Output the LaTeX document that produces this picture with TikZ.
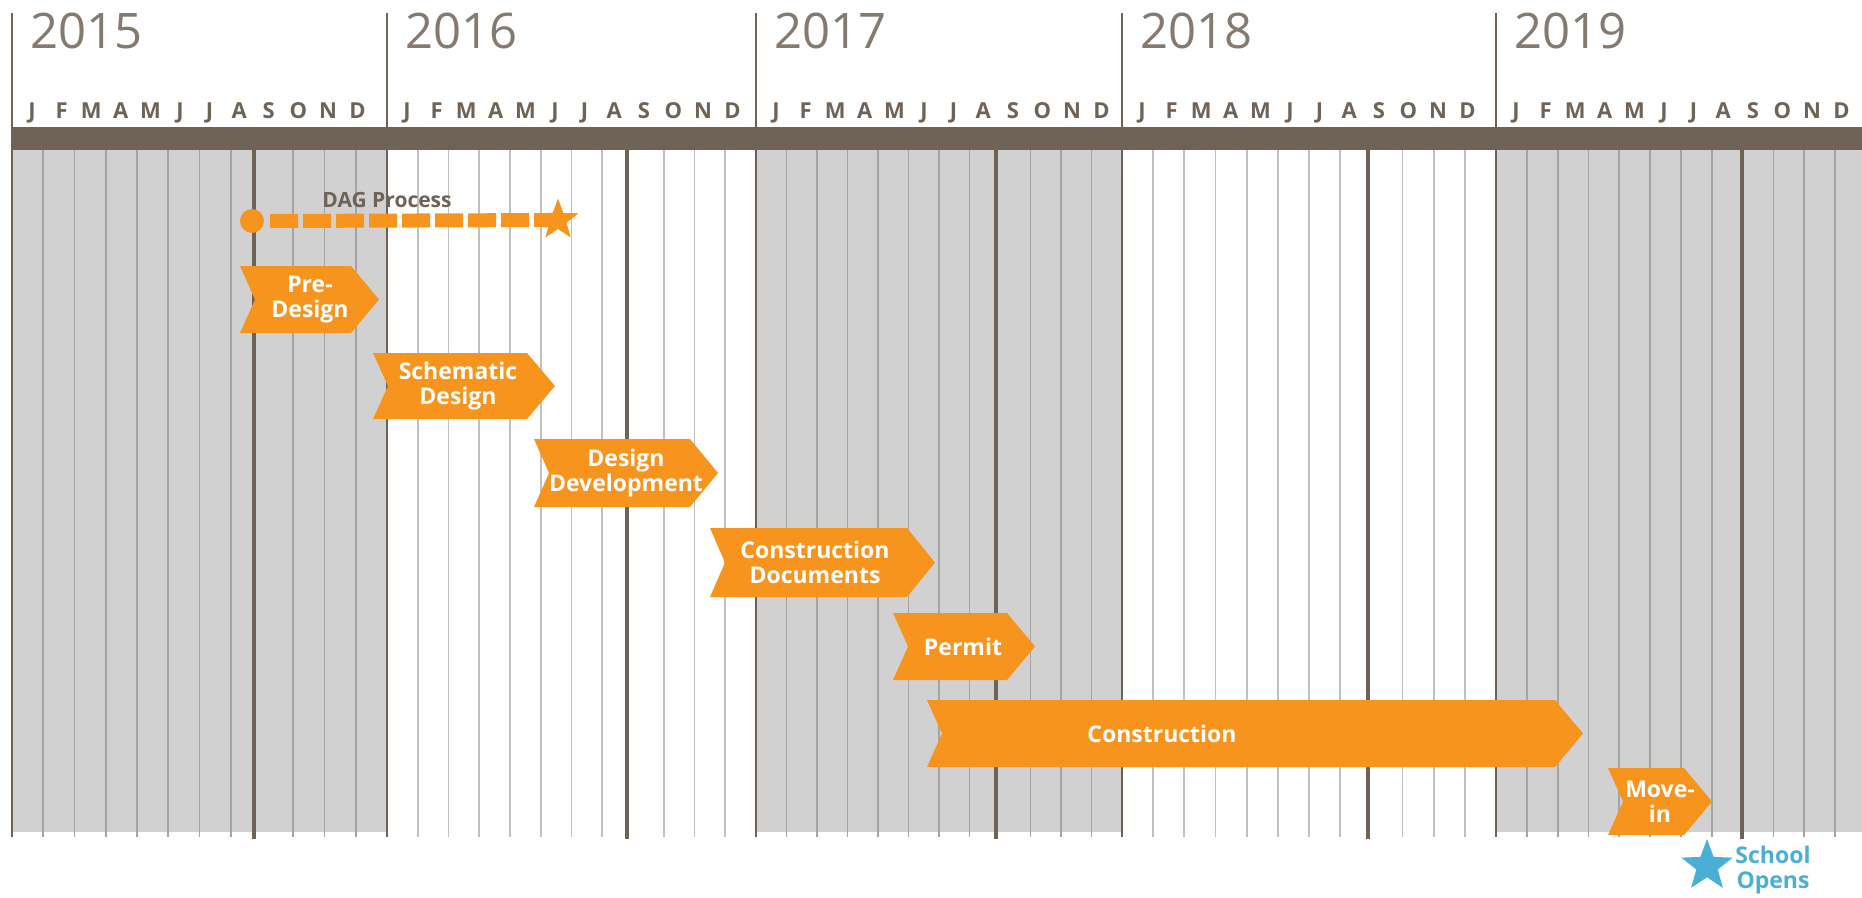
\documentclass[tikz,border=0pt]{standalone}
\usepackage{fontspec}
\setmainfont{Open Sans}
\usetikzlibrary{shapes.geometric}
\definecolor{brn}{HTML}{6F6357}
\definecolor{org}{HTML}{F7941D}
\definecolor{blu}{HTML}{4AAFD6}
\definecolor{gfill}{HTML}{D1D1D1}
\definecolor{gline}{HTML}{A6A4A2}
\definecolor{wline}{HTML}{C2BFBC}
\tikzset{
  yearlabel/.style={anchor=base west, inner sep=0pt, text=brn!85, font=\fontsize{49}{50}\selectfont},
  monthlabel/.style={anchor=base, inner sep=0pt, text=brn, font=\bfseries\fontsize{22}{24}\selectfont},
  chevtext/.style={inner sep=0pt, text=white, align=center, font=\bfseries\fontsize{23}{25}\selectfont},
  thinrule/.style={line width=1.8pt},
  thickrule/.style={brn, line width=3.2pt},
  yearrule/.style={brn, line width=2.6pt},
}
\newcommand\chev[7]{%
  \fill[org] (#2,#4) -- ({#3-28},#4) -- (#3,{(#4+#5)/2}) -- ({#3-28},#5) -- (#2,#5) -- ({#2+15},{(#4+#5)/2}) -- cycle;
  \node[chevtext] (#1) at (#6,{(#4+#5)/2}) {#7};
}
\begin{document}
\begin{tikzpicture}[x=1pt,y=-1pt]
\useasboundingbox (0,0) rectangle (1862,897);
\fill[white] (0,0) rectangle (1862,897);
% years
\foreach \ys/\ye/\yr/\g/\tk in {12/387/2015/1/254, 387/756/2016/0/627, 756/1122/2017/1/996, 1122/1496/2018/0/1368, 1496/1866/2019/1/1742}{
  \pgfmathsetmacro\mw{(\ye-\ys)/12}
  \ifnum\g=1
    \fill[gfill] (\ys,150) rectangle (\ye,832);
    \def\lc{gline}
  \else
    \def\lc{wline}
  \fi
  \foreach \k in {1,...,7,9,10,11}{
    \draw[thinrule, draw=\lc] ({\ys+\k*\mw},150) -- ({\ys+\k*\mw},837);
  }
  \draw[thickrule] (\tk,150) -- (\tk,839);
  \draw[yearrule] (\ys,13) -- (\ys,837);
  \node[yearlabel] (y\yr) at ({\ys+18},48) {\yr};
  \foreach \m [count=\i from 0] in {J,F,M,A,M,J,J,A,S,O,N,D}{
    \node[monthlabel] (m\yr-\i) at ({\ys+20+\i*29.6},118) {\m};
  }
}
\fill[brn] (12,127) rectangle (1862,150);
% DAG process
\node[inner sep=0pt, text=brn, font=\bfseries\fontsize{21}{23}\selectfont] (dagl) at (387,200) {DAG Process};
\node[circle, fill=org, minimum size=24pt, inner sep=0pt] (dagc) at (252,221) {};
\node[star, star points=5, star point ratio=2.4, fill=org, minimum size=42pt, inner sep=0pt] (dags) at (558,220) {};
\draw[org, line width=14pt, dash pattern=on 28pt off 5pt] ([xshift=6pt]dagc.east) -- (dags.center);
\node[star, star points=5, star point ratio=2.4, fill=org, minimum size=42pt, inner sep=0pt] (dags2) at (dags.center) {};
% chevrons
\chev{pre}{240}{379}{266}{333}{310}{Pre-\\Design}
\chev{sd}{373}{555}{353}{419}{458}{Schematic\\Design}
\chev{dd}{534}{718}{439}{507}{626}{Design\\Development}
\chev{cd}{710}{935}{528}{597}{815}{Construction\\Documents}
\chev{pm}{893}{1035}{613}{680}{963}{Permit}
\chev{cn}{927}{1583}{700}{767}{1162}{Construction}
\chev{mi}{1608}{1712}{768}{835}{1660}{Move-\\in}
% school opens
\node[star, star points=5, star point ratio=2.4, fill=blu, minimum size=54pt, inner sep=0pt] (so) at (1707,866) {};
\node[inner sep=0pt, text=blu, align=center, font=\bfseries\fontsize{23}{25}\selectfont] (sol) at (1773,870) {School\\Opens};
\end{tikzpicture}
\end{document}
